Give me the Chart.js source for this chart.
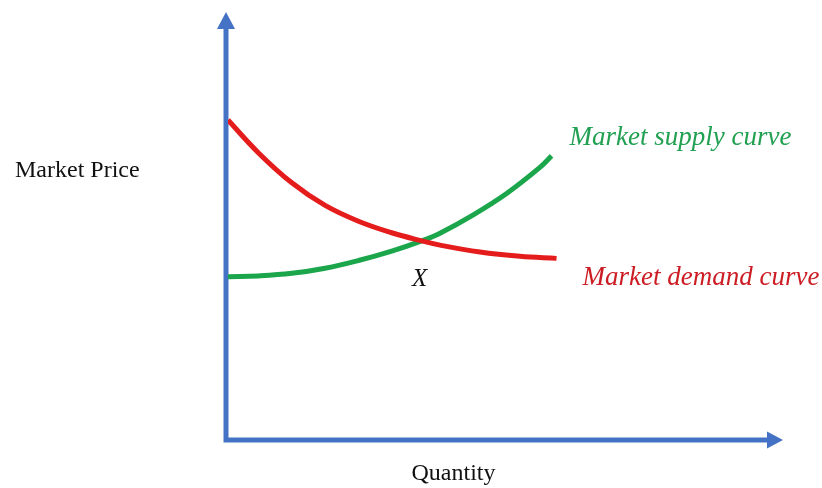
<!DOCTYPE html>
<html>
<head>
<meta charset="utf-8">
<script src="https://cdn.jsdelivr.net/npm/chart.js@4"></script>
<style>
html,body{margin:0;padding:0;background:#fff;}
#wrap{width:822px;height:488px;}
</style>
</head>
<body>
<div id="wrap"><canvas id="c" width="822" height="488"></canvas></div>
<script>
// Quantity (x) and price (y) in arbitrary units, axes run 0..100
const demandX = [0, 5.5, 11.5, 17.5, 23.5, 29.5, 34.9, 38.2, 45.4, 52.6, 59.2];
const demandY = [74.7, 67.0, 60.0, 54.7, 51.0, 48.3, 46.4, 45.4, 43.8, 42.8, 42.3];
const supplyX = [0, 5.5, 11.5, 17.5, 23.5, 29.5, 34.9, 38.2, 44.2, 50.2, 56.2, 58.3];
const supplyY = [38.0, 38.2, 38.8, 40.0, 41.8, 44.0, 46.4, 48.2, 52.5, 57.5, 63.6, 66.3];
const seriesNames = ["Market demand curve", "Market supply curve"];
const axisTitles = {x: "Quantity", y: "Market Price"};
const pointLabel = "X";

const toPts = (xs, ys) => xs.map((x, i) => ({x: x, y: ys[i]}));

const AXIS = '#4472c4';
const RED = '#e51c1c', GREEN = '#1ba64c';
const RED_T = '#cc1c24', GREEN_T = '#21a052';
const SERIF = '"Liberation Serif", "Times New Roman", serif';

const decor = {
  id: 'decor',
  beforeDatasetsDraw(chart) {
    const ctx = chart.ctx;
    const xs = chart.scales.x, ys = chart.scales.y;
    const x0 = xs.getPixelForValue(0) - 2, y0 = ys.getPixelForValue(0) + 1;
    const xEnd = xs.getPixelForValue(100), yEnd = ys.getPixelForValue(100);
    ctx.save();
    ctx.strokeStyle = AXIS; ctx.fillStyle = AXIS;
    ctx.lineWidth = 5; ctx.lineJoin = 'miter'; ctx.lineCap = 'butt';
    ctx.beginPath();
    ctx.moveTo(x0, yEnd + 14);
    ctx.lineTo(x0, y0);
    ctx.lineTo(xEnd - 14, y0);
    ctx.stroke();
    ctx.beginPath();
    ctx.moveTo(x0, yEnd); ctx.lineTo(x0 - 9, yEnd + 17); ctx.lineTo(x0 + 9, yEnd + 17); ctx.closePath(); ctx.fill();
    ctx.beginPath();
    ctx.moveTo(xEnd, y0); ctx.lineTo(xEnd - 16, y0 - 8.5); ctx.lineTo(xEnd - 16, y0 + 8.5); ctx.closePath(); ctx.fill();
    ctx.restore();
  },
  afterDatasetsDraw(chart) {
    const ctx = chart.ctx;
    const xs = chart.scales.x;
    ctx.save();
    ctx.textBaseline = 'alphabetic';
    ctx.fillStyle = '#111';
    ctx.font = '24px ' + SERIF;
    ctx.textAlign = 'left';
    ctx.fillText(axisTitles.y, 15, 177);
    ctx.textAlign = 'center';
    ctx.fillText(axisTitles.x, (xs.getPixelForValue(0) + xs.getPixelForValue(100)) / 2 - 52, 480);
    ctx.textAlign = 'left';
    ctx.font = 'italic 27px ' + SERIF;
    const sx = xs.getPixelForValue(supplyX[supplyX.length - 1]);
    ctx.fillStyle = GREEN_T;
    ctx.fillText(seriesNames[1], sx + 18, 145);
    const dx = xs.getPixelForValue(demandX[demandX.length - 1]);
    ctx.fillStyle = RED_T;
    ctx.fillText(seriesNames[0], dx + 26, 285);
    ctx.fillStyle = '#111';
    ctx.font = 'italic 25px ' + SERIF;
    ctx.textAlign = 'center';
    ctx.fillText(pointLabel, xs.getPixelForValue(34.9) - 2, 286);
    ctx.restore();
  }
};

new Chart(document.getElementById('c'), {
  type: 'scatter',
  data: {
    datasets: [
      {label: seriesNames[0], data: toPts(demandX, demandY), showLine: true, borderColor: RED, borderWidth: 5,
       pointRadius: 0, tension: 0.4, borderCapStyle: 'butt', fill: false},
      {label: seriesNames[1], data: toPts(supplyX, supplyY), showLine: true, borderColor: GREEN, borderWidth: 5,
       pointRadius: 0, tension: 0.4, borderCapStyle: 'butt', fill: false}
    ]
  },
  options: {
    responsive: false,
    animation: false,
    devicePixelRatio: 1,
    layout: {padding: {left: 228, right: 39, top: 12, bottom: 49}},
    plugins: {legend: {display: false}, tooltip: {enabled: false}},
    scales: {
      x: {type: 'linear', min: 0, max: 100, display: false},
      y: {type: 'linear', min: 0, max: 100, display: false}
    }
  },
  plugins: [decor]
});
</script>
</body>
</html>
